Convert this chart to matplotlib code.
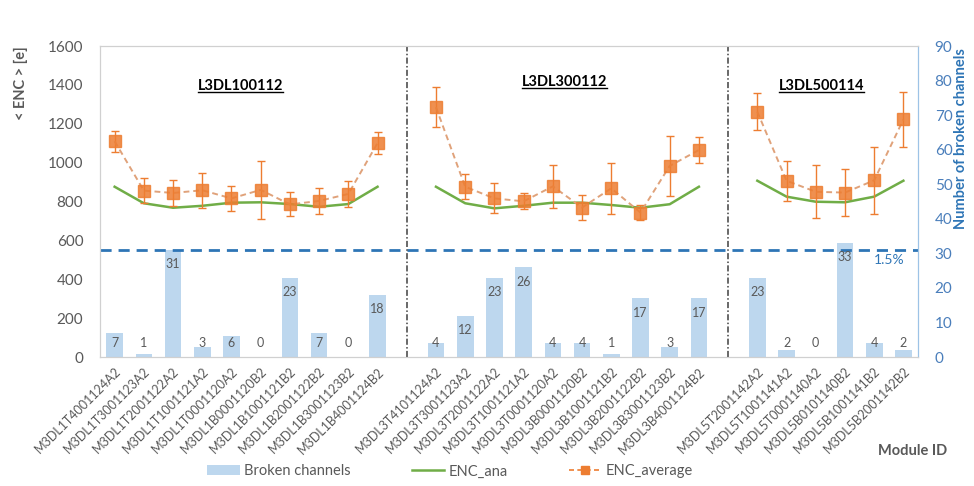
#!/usr/bin/env python3
"""ENC and broken channel count per module, three ladders."""

import numpy as np
import matplotlib
matplotlib.use('Agg')
import matplotlib.pyplot as plt
from matplotlib.lines import Line2D
from matplotlib.patches import Patch

plt.rcParams['font.family'] = ['Lato', 'DejaVu Sans']

# ---- data -------------------------------------------------------------
ladders = ['L3DL100112', 'L3DL300112', 'L3DL500114']

modules_1 = ['M3DL1T4001124A2', 'M3DL1T3001123A2', 'M3DL1T2001122A2', 'M3DL1T1001121A2',
             'M3DL1T0001120A2', 'M3DL1B0001120B2', 'M3DL1B1001121B2', 'M3DL1B2001122B2',
             'M3DL1B3001123B2', 'M3DL1B4001124B2']
modules_2 = ['M3DL3T4101124A2', 'M3DL3T3001123A2', 'M3DL3T2001122A2', 'M3DL3T1001121A2',
             'M3DL3T0001120A2', 'M3DL3B0001120B2', 'M3DL3B1001121B2', 'M3DL3B2001122B2',
             'M3DL3B3001123B2', 'M3DL3B4001124B2']
modules_3 = ['M3DL5T2001142A2', 'M3DL5T1001141A2', 'M3DL5T0001140A2', 'M3DL5B0101140B2',
             'M3DL5B1001141B2', 'M3DL5B2001142B2']

broken_1 = [7, 1, 31, 3, 6, 0, 23, 7, 0, 18]
broken_2 = [4, 12, 23, 26, 4, 4, 1, 17, 3, 17]
broken_3 = [23, 2, 0, 33, 4, 2]

enc_avg_1 = [1110, 856, 844, 858, 816, 860, 785, 803, 839, 1101]
enc_avg_2 = [1285, 876, 816, 801, 878, 769, 868, 743, 983, 1065]
enc_avg_3 = [1262, 907, 850, 846, 909, 1222]

enc_err_1 = [55, 65, 67, 90, 63, 150, 62, 65, 66, 58]
enc_err_2 = [103, 64, 77, 41, 110, 64, 132, 39, 155, 65]
enc_err_3 = [95, 103, 137, 119, 173, 140]

enc_ana_1 = [876, 791, 768, 778, 794, 796, 787, 773, 787, 876]
enc_ana_2 = [876, 791, 765, 778, 794, 794, 782, 768, 786, 876]
enc_ana_3 = [907, 825, 799, 796, 825, 907]

threshold = 31  # broken channels, 1.5 %


def join(groups, fill):
    """Concatenate the ladder groups with one empty slot between them."""
    out = []
    for i, g in enumerate(groups):
        if i:
            out.append(fill)
        out.extend(g)
    return out


labels = join([modules_1, modules_2, modules_3], '')
broken = np.array(join([broken_1, broken_2, broken_3], np.nan), dtype=float)
enc_avg = np.array(join([enc_avg_1, enc_avg_2, enc_avg_3], np.nan), dtype=float)
enc_err = np.array(join([enc_err_1, enc_err_2, enc_err_3], np.nan), dtype=float)
enc_ana = np.array(join([enc_ana_1, enc_ana_2, enc_ana_3], np.nan), dtype=float)
x = np.arange(len(labels))
gaps = [i for i, l in enumerate(labels) if l == '']

# ---- colours ----------------------------------------------------------
TEXT = '#595959'
BLUE = '#2e75b6'
BAR = '#bdd7ee'
ORANGE = '#ed7d31'
GREEN = '#70ad47'

fig = plt.figure(figsize=(9.74, 4.86), dpi=100)
ax = fig.add_axes([0.1027, 0.2654, 0.8398, 0.6399])
ax2 = ax.twinx()
ax.set_zorder(2)
ax.patch.set_visible(False)

# bars on the right axis
ax2.bar(x, broken, width=0.57, color=BAR, zorder=1)
for xi, v in zip(x, broken):
    if np.isnan(v):
        continue
    ax2.text(xi, max(v - 4.2, 4.0), f'{int(v)}', ha='center', va='center',
             fontsize=9, color=TEXT, zorder=3)
ax2.axhline(threshold, color=BLUE, lw=2, ls=(0, (4, 2.5)), zorder=2)
ax2.text(x[-1] - 0.5, threshold - 3, '1.5%', color=BLUE, fontsize=10,
         ha='center', va='center')
ax2.set_ylim(0, 90)
ax2.set_yticks(range(0, 91, 10))
ax2.tick_params(axis='y', length=0, labelsize=11, labelcolor='#4a7ebb', pad=12)

# ENC lines on the left axis
ax.plot(x, enc_ana, color=GREEN, lw=1.8, zorder=3)
ax.errorbar(x, enc_avg, yerr=enc_err, fmt='none', ecolor=ORANGE, elinewidth=1,
            capsize=3, capthick=1, zorder=4)
ax.plot(x, enc_avg, color='#e0a27a', lw=1.4, ls=(0, (3, 2)), zorder=4)
ax.plot(x, enc_avg, ls='none', marker='s', ms=8, color=ORANGE, alpha=0.85, zorder=5)

for g in gaps:
    ax.axvline(g, color='#404040', lw=1.1, ls=(0, (4, 1.5, 1, 1.5)), zorder=1)

ax.set_xlim(-0.5, len(labels) - 0.5)
ax.set_ylim(0, 1600)
ax.set_yticks(range(0, 1601, 200))
ax.tick_params(axis='y', length=0, labelsize=11, labelcolor=TEXT, pad=12)
ax.set_xticks(x)
ax.set_xticklabels(labels, rotation=45, ha='right', rotation_mode='anchor',
                   fontsize=9, color=TEXT)
ax.tick_params(axis='x', length=0, pad=6)

for a in (ax, ax2):
    for side in ('top', 'left', 'bottom'):
        a.spines[side].set_color('#d0d0d0')
    a.spines['right'].set_color('#9dc3e6')

# ladder titles, bold and underlined
title_pos = [(4.3, 0.871), (15.4, 0.884), (24.2, 0.871)]
titles = []
for name, (tx, ty) in zip(ladders, title_pos):
    t = ax.text(tx, ty, name, transform=ax.get_xaxis_transform(), ha='center',
                va='center', fontsize=10.5, fontweight='bold', color='#000000')
    titles.append(t)

fig.text(0.022, 0.905, '< ENC > [e]', rotation=90, ha='center', va='top',
         fontsize=10.5, fontweight='bold', color=TEXT)
fig.text(0.987, 0.90, 'Number of broken channels', rotation=90, ha='center',
         va='top', fontsize=10.5, fontweight='bold', color=BLUE)
fig.text(0.937, 0.073, 'Module ID', ha='center', va='center', fontsize=10.5,
         fontweight='bold', color=TEXT)

handles = [
    Patch(facecolor=BAR, label='Broken channels'),
    Line2D([], [], color=GREEN, lw=1.8, label='ENC_ana'),
    Line2D([], [], color=ORANGE, lw=1.2, ls=(0, (3, 2)), marker='s', ms=6,
           label='ENC_average'),
]
fig.legend(handles=handles, loc='center', bbox_to_anchor=(0.462, 0.03), ncol=3,
           frameon=False, fontsize=10.5, labelcolor=TEXT, columnspacing=4.2,
           handlelength=2.2, handletextpad=0.3)

# underline the titles
fig.canvas.draw()
inv = fig.transFigure.inverted()
for t in titles:
    bb = t.get_window_extent()
    (x0, y0), (x1, _) = inv.transform([(bb.x0, bb.y0), (bb.x1, bb.y1)])
    fig.add_artist(Line2D([x0, x1], [y0 + 0.002, y0 + 0.002], color='#000000',
                          lw=1, transform=fig.transFigure))

fig.savefig('out.png', dpi=100)
